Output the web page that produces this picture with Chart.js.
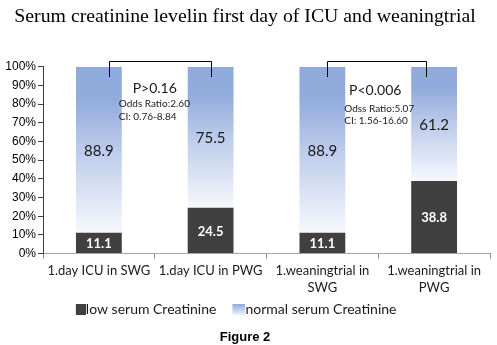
<!DOCTYPE html>
<html>
<head>
<meta charset="utf-8">
<script src="https://cdn.jsdelivr.net/npm/chart.js@4"></script>
<style>
  html, body { margin: 0; padding: 0; background: #fff; }
  #wrap { width: 497px; height: 345px; }
</style>
</head>
<body>
<div id="wrap"><canvas id="barA"></canvas></div>
<script>
// data
let categories = [
    '1.day ICU in SWG',
    '1.day ICU in PWG',
    ['1.weaningtrial in', 'SWG'],
    ['1.weaningtrial in', 'PWG']
]
let lowCreatinine = [11.1, 24.5, 11.1, 38.8]
let normalCreatinine = [88.9, 75.5, 88.9, 61.2]
let yTicks = [0, 10, 20, 30, 40, 50, 60, 70, 80, 90, 100]

// comparison brackets between pairs of bars
let comparisons = [
    { from: 0, to: 1, p: 'P>0.16', odds: 'Odds Ratio:2.60', ci: 'CI: 0.76-8.84' },
    { from: 2, to: 3, p: 'P<0.006', odds: 'Odss Ratio:5.07', ci: 'CI: 1.56-16.60' }
]

const labelFont = 'Lato, "Open Sans", sans-serif'

// blue gradient per bar, darker at top, near white at its base
function normalFill(context) {
    let chart = context.chart
    let y = chart.scales.y
    if (!chart.chartArea || !y) return '#a9bde4'
    let i = context.dataIndex
    let top = y.getPixelForValue(100)
    let bottom = y.getPixelForValue(lowCreatinine[i] || 0)
    let g = chart.ctx.createLinearGradient(0, top, 0, bottom)
    g.addColorStop(0, '#8faadc')
    g.addColorStop(0.2, '#93acdc')
    g.addColorStop(0.55, '#c2d0ec')
    g.addColorStop(1, '#f6f8fd')
    return g
}

// legend swatch, transparent on the left so the box sits against its text
function legendSwatch(kind) {
    let c = document.createElement('canvas')
    let w = kind === 'low' ? 10 : 13
    c.width = 28
    c.height = 11
    let x = c.getContext('2d')
    if (kind === 'low') {
        x.fillStyle = '#404040'
    } else {
        let g = x.createLinearGradient(0, 0, 0, 11)
        g.addColorStop(0, '#8faadc')
        g.addColorStop(1, '#eef2fa')
        x.fillStyle = g
    }
    x.fillRect(28 - w, 0, w, 11)
    return c
}

// values in the middle of each segment
const valueLabels = {
    id: 'valueLabels',
    afterDatasetsDraw(chart) {
        let ctx = chart.ctx
        ctx.save()
        ctx.textAlign = 'center'
        ctx.textBaseline = 'middle'
        chart.data.datasets.forEach((ds, di) => {
            chart.getDatasetMeta(di).data.forEach((bar, i) => {
                let p = bar.getProps(['x', 'y', 'base'], true)
                let cy = (p.y + p.base) / 2
                if (di === 0) {
                    ctx.fillStyle = '#ffffff'
                    ctx.font = 'bold 13px ' + labelFont
                } else {
                    ctx.fillStyle = '#1a1a1a'
                    ctx.font = '15px ' + labelFont
                }
                ctx.fillText(ds.data[i].toFixed(1), p.x, cy + 1)
            })
        })
        ctx.restore()
    }
}

// brackets and statistics text
const comparisonNotes = {
    id: 'comparisonNotes',
    afterDatasetsDraw(chart) {
        let ctx = chart.ctx
        let x = chart.scales.x
        let y = chart.scales.y
        let step = x.getPixelForValue(1) - x.getPixelForValue(0)
        ctx.save()
        comparisons.forEach((c, k) => {
            let x1 = x.getPixelForValue(c.from) + step * (k === 0 ? 0.09 : 0.04)
            let x2 = x.getPixelForValue(c.to) + step * (k === 0 ? 0.005 : -0.07)
            let top = y.getPixelForValue(100) - 6
            let low = y.getPixelForValue(94.5)
            ctx.strokeStyle = '#000'
            ctx.lineWidth = 1
            ctx.beginPath()
            ctx.moveTo(Math.round(x1) + 0.5, low)
            ctx.lineTo(Math.round(x1) + 0.5, Math.round(top) + 0.5)
            ctx.lineTo(Math.round(x2) + 0.5, Math.round(top) + 0.5)
            ctx.lineTo(Math.round(x2) + 0.5, low)
            ctx.stroke()

            let mid = (x.getPixelForValue(c.from) + x.getPixelForValue(c.to)) / 2
            ctx.fillStyle = '#1a1a1a'
            ctx.textBaseline = 'middle'
            ctx.textAlign = 'center'
            ctx.font = '14px ' + labelFont
            ctx.fillText(c.p, mid - (k === 0 ? 0 : 3), y.getPixelForValue(k === 0 ? 88.5 : 87.5))
            ctx.textAlign = 'left'
            ctx.font = '10px ' + labelFont
            let left = mid - (k === 0 ? 36 : 34)
            ctx.fillText(c.odds, left, y.getPixelForValue(k === 0 ? 80 : 77.5))
            ctx.fillText(c.ci, left, y.getPixelForValue(k === 0 ? 73 : 71))
        })
        ctx.restore()
    }
}

new Chart(document.getElementById('barA'), {
    type: 'bar',
    data: {
        labels: categories,
        datasets: [
            {
                label: 'low serum Creatinine',
                data: lowCreatinine,
                backgroundColor: '#404040',
                pointStyle: legendSwatch('low')
            },
            {
                label: 'normal serum Creatinine',
                data: normalCreatinine,
                backgroundColor: normalFill,
                pointStyle: legendSwatch('normal')
            }
        ]
    },
    options: {
        responsive: true,
        maintainAspectRatio: false,
        animation: false,
        layout: { padding: { left: 0, right: 7, top: 0, bottom: 0 } },
        datasets: {
            bar: { categoryPercentage: 1, barPercentage: 0.41 }
        },
        plugins: {
            title: {
                display: true,
                text: 'Serum creatinine levelin first day of ICU and weaningtrial',
                color: '#000',
                font: { family: '"Liberation Serif", "Times New Roman", serif', size: 19.8, weight: 'normal' },
                padding: { top: 5, bottom: 38 }
            },
            subtitle: {
                display: true,
                position: 'bottom',
                text: 'Figure 2',
                color: '#000',
                font: { family: '"Liberation Sans", Arial, sans-serif', size: 13, weight: 'bold' },
                padding: { top: 3, bottom: 0 }
            },
            legend: {
                position: 'bottom',
                labels: {
                    usePointStyle: true,
                    color: '#1a1a1a',
                    font: { family: labelFont, size: 14 },
                    padding: 8,
                    // trailing spaces keep the legend centred like the original
                    generateLabels: (chart) => Chart.defaults.plugins.legend.labels.generateLabels(chart)
                        .map((item, i) => { if (i === 1) item.text = item.text + '\u00a0'.repeat(8); return item })
                }
            },
            tooltip: { enabled: false }
        },
        scales: {
            x: {
                stacked: true,
                grid: { display: true, drawOnChartArea: false, drawTicks: true, tickLength: 5, color: '#8c8c8c' },
                border: { display: true, color: '#a6a6a6' },
                afterFit: (scale) => { scale.height -= 6 },
                ticks: {
                    color: '#1a1a1a',
                    font: { family: labelFont, size: 13, lineHeight: 1.3 },
                    maxRotation: 0,
                    autoSkip: false,
                    padding: 4
                }
            },
            y: {
                stacked: true,
                min: 0,
                max: 100,
                grid: { display: true, drawOnChartArea: false, drawTicks: true, tickLength: 5, color: '#404040' },
                border: { display: true, color: '#404040' },
                afterFit: (scale) => { scale.width = 43 },
                afterBuildTicks: (scale) => { scale.ticks = yTicks.map(v => ({ value: v })) },
                ticks: {
                    color: '#000',
                    autoSkip: false,
                    font: { family: '"Liberation Sans", Arial, sans-serif', size: 12 },
                    padding: 2,
                    callback: (v) => v + '%'
                }
            }
        }
    },
    plugins: [valueLabels, comparisonNotes]
})
</script>
</body>
</html>
